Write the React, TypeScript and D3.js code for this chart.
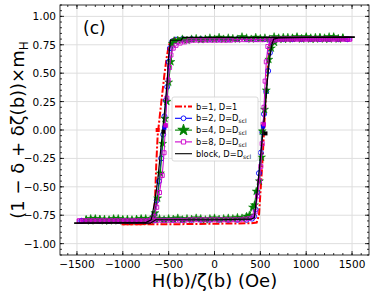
import React, { useEffect, useRef } from 'react';
import * as d3 from 'd3';

type Pt = [number, number];

// b=1, D=1  (dash-dot line, no markers)
const b1Down: Pt[] = [
  [1000, 0.81], [500, 0.81], [0, 0.81], [-300, 0.81], [-440, 0.805], [-473, 0.79], [-500, 0.74],
  [-521, 0.64], [-546, 0.49], [-575, 0.28], [-600, 0.1], [-620, -0.05], [-635, -0.3], [-648, -0.6],
  [-660, -0.77], [-690, -0.82], [-800, -0.83], [-1015, -0.83],
];
const b1Up: Pt[] = [
  [-1015, -0.83], [-500, -0.83], [0, -0.825], [400, -0.82], [460, -0.815], [485, -0.75], [505, -0.5],
  [525, -0.25], [540, 0], [560, 0.3], [585, 0.6], [605, 0.76], [635, 0.805], [700, 0.81], [1000, 0.81],
];

// b=2, D=Dscl  (open circles)
const b2Down: Pt[] = [
  [1450, 0.8], [1350, 0.8], [1250, 0.8], [1150, 0.8], [1050, 0.8], [950, 0.8], [850, 0.8], [750, 0.8],
  [650, 0.8], [550, 0.8], [450, 0.8], [350, 0.8], [250, 0.8], [150, 0.8], [50, 0.8], [-50, 0.8],
  [-150, 0.8], [-250, 0.8], [-350, 0.8], [-420, 0.795], [-460, 0.78], [-485, 0.72], [-500, 0.6],
  [-516, 0.38], [-531, 0.26], [-546, 0.12], [-560, -0.04], [-582, -0.25], [-605, -0.45], [-630, -0.62],
  [-655, -0.74], [-680, -0.79], [-750, -0.8], [-850, -0.8], [-950, -0.8], [-1050, -0.8], [-1150, -0.8],
  [-1250, -0.8], [-1350, -0.8], [-1450, -0.8],
];
const b2Up: Pt[] = [
  [-1450, -0.8], [-1350, -0.8], [-1250, -0.8], [-1150, -0.8], [-1050, -0.8], [-950, -0.8], [-850, -0.8],
  [-750, -0.8], [-650, -0.795], [-550, -0.79], [-450, -0.79], [-350, -0.79], [-250, -0.79], [-150, -0.79],
  [-50, -0.79], [50, -0.79], [150, -0.79], [250, -0.79], [350, -0.79], [410, -0.78], [432, -0.76],
  [448, -0.7], [465, -0.55], [485, -0.38], [505, -0.2], [522, -0.02], [540, 0.14], [564, 0.34],
  [585, 0.52], [605, 0.68], [625, 0.77], [660, 0.795], [750, 0.8], [850, 0.8], [950, 0.8], [1050, 0.8],
  [1150, 0.8], [1250, 0.8], [1350, 0.8], [1450, 0.8],
];

// b=4, D=Dscl  (filled stars)
const b4Down: Pt[] = [
  [1400, 0.81], [1350, 0.8], [1300, 0.82], [1250, 0.8], [1200, 0.81], [1150, 0.815], [1100, 0.8],
  [1050, 0.81], [1000, 0.82], [950, 0.8], [900, 0.81], [850, 0.805], [800, 0.815], [750, 0.8], [700, 0.81],
  [650, 0.82], [600, 0.8], [550, 0.81], [500, 0.805], [450, 0.815], [400, 0.8], [350, 0.81], [300, 0.82],
  [250, 0.8], [200, 0.805], [150, 0.81], [100, 0.8], [50, 0.815], [0, 0.8], [-50, 0.81], [-100, 0.8],
  [-150, 0.795], [-200, 0.805], [-250, 0.8], [-300, 0.79], [-350, 0.8], [-400, 0.79], [-440, 0.785],
  [-460, 0.76], [-475, 0.6], [-500, 0.42], [-520, 0.25], [-540, 0.1], [-565, -0.12], [-590, -0.38],
  [-620, -0.6], [-650, -0.73], [-680, -0.78], [-700, -0.79], [-750, -0.8], [-800, -0.78], [-850, -0.79],
  [-900, -0.8], [-950, -0.785], [-1000, -0.79], [-1050, -0.8], [-1100, -0.78], [-1150, -0.79],
  [-1200, -0.8], [-1250, -0.785], [-1300, -0.79], [-1350, -0.78], [-1400, -0.79],
];
const b4Up: Pt[] = [
  [-1400, -0.79], [-1350, -0.8], [-1300, -0.78], [-1250, -0.79], [-1200, -0.785], [-1150, -0.8],
  [-1100, -0.79], [-1050, -0.78], [-1000, -0.79], [-950, -0.8], [-900, -0.79], [-850, -0.785],
  [-800, -0.79], [-750, -0.78], [-700, -0.79], [-650, -0.785], [-600, -0.78], [-550, -0.79], [-500, -0.78],
  [-450, -0.785], [-400, -0.775], [-350, -0.79], [-300, -0.78], [-250, -0.785], [-200, -0.775],
  [-150, -0.78], [-100, -0.79], [-50, -0.78], [0, -0.775], [50, -0.785], [100, -0.78], [150, -0.775],
  [200, -0.78], [250, -0.77], [300, -0.775], [350, -0.76], [380, -0.75], [415, -0.68], [436, -0.66],
  [455, -0.54], [490, -0.45], [513, -0.24], [520, -0.01], [546, 0.18], [565, 0.35], [593, 0.62],
  [620, 0.72], [655, 0.77], [700, 0.8], [750, 0.815], [800, 0.8], [850, 0.81], [900, 0.82], [950, 0.805],
  [1000, 0.81], [1050, 0.8], [1100, 0.815], [1150, 0.81], [1200, 0.8], [1250, 0.82], [1300, 0.81],
  [1350, 0.805], [1400, 0.81],
];

// b=8, D=Dscl  (open squares)
const b8Down: Pt[] = [
  [1475, 0.8], [1425, 0.8], [1375, 0.8], [1325, 0.8], [1275, 0.8], [1225, 0.8], [1175, 0.8], [1125, 0.8],
  [1075, 0.8], [1025, 0.8], [975, 0.8], [925, 0.8], [875, 0.8], [825, 0.8], [775, 0.8], [725, 0.8],
  [675, 0.8], [625, 0.8], [575, 0.8], [525, 0.795], [475, 0.795], [425, 0.795], [375, 0.795], [325, 0.795],
  [275, 0.795], [225, 0.795], [175, 0.79], [125, 0.79], [75, 0.79], [25, 0.79], [-25, 0.79], [-75, 0.79],
  [-125, 0.79], [-175, 0.79], [-225, 0.79], [-275, 0.785], [-325, 0.775], [-375, 0.765], [-420, 0.745],
  [-450, 0.72], [-475, 0.66], [-490, 0.55], [-505, 0.44], [-520, 0.28], [-535, 0.04], [-550, -0.2],
  [-570, -0.4], [-600, -0.55], [-630, -0.68], [-660, -0.76], [-690, -0.79], [-725, -0.8], [-775, -0.8],
  [-825, -0.8], [-875, -0.8], [-925, -0.8], [-975, -0.8], [-1025, -0.8], [-1075, -0.8], [-1125, -0.8],
  [-1175, -0.8], [-1225, -0.8], [-1275, -0.8], [-1325, -0.8], [-1375, -0.8], [-1425, -0.8], [-1475, -0.8],
];
const b8Up: Pt[] = [
  [-1475, -0.8], [-1425, -0.8], [-1375, -0.8], [-1325, -0.8], [-1275, -0.8], [-1225, -0.8], [-1175, -0.8],
  [-1125, -0.8], [-1075, -0.8], [-1025, -0.8], [-975, -0.8], [-925, -0.8], [-875, -0.8], [-825, -0.8],
  [-775, -0.8], [-725, -0.8], [-675, -0.795], [-625, -0.795], [-575, -0.795], [-525, -0.795], [-475, -0.795],
  [-425, -0.795], [-375, -0.795], [-325, -0.795], [-275, -0.79], [-225, -0.79], [-175, -0.79], [-125, -0.79],
  [-75, -0.79], [-25, -0.79], [25, -0.79], [75, -0.79], [125, -0.79], [175, -0.79], [225, -0.79],
  [275, -0.79], [325, -0.785], [375, -0.78], [420, -0.765], [445, -0.72], [470, -0.58], [490, -0.45],
  [505, -0.32], [520, -0.12], [530, 0.05], [540, 0.2], [552, 0.43], [565, 0.6], [582, 0.735], [615, 0.775],
  [650, 0.79], [700, 0.795], [750, 0.8], [800, 0.8], [850, 0.8], [900, 0.8], [950, 0.8], [1000, 0.8],
  [1050, 0.8], [1100, 0.8], [1150, 0.8], [1200, 0.8], [1250, 0.8], [1300, 0.8], [1350, 0.8], [1400, 0.8],
  [1450, 0.8], [1475, 0.8],
];

// block, D=Dscl  (solid black line)
const blockDown: Pt[] = [
  [1530, 0.815], [1000, 0.815], [500, 0.815], [0, 0.815], [-345, 0.815], [-365, 0.79], [-480, 0.79],
  [-500, 0.65], [-515, 0.44], [-540, 0.2], [-565, 0], [-590, -0.2], [-620, -0.45], [-650, -0.62],
  [-675, -0.73], [-690, -0.79], [-750, -0.815], [-1000, -0.815], [-1530, -0.82],
];
const blockUp: Pt[] = [
  [-1530, -0.82], [-1000, -0.82], [-700, -0.82], [-640, -0.79], [0, -0.79], [400, -0.785], [435, -0.77],
  [445, -0.7], [470, -0.5], [500, -0.25], [530, 0], [555, 0.2], [575, 0.42], [600, 0.62], [625, 0.75],
  [645, 0.8], [700, 0.81], [1000, 0.815], [1530, 0.82],
];

// points where each loop crosses zero (filled squares)
const zeroCrossH = [-620, -546, -535, -557, 535, 530, 540, 556];
const zeroCrossM = [0, 0.02, 0.04, -0.015, 0.04, 0.03, 0.05, -0.03];
const zeroCrossColor = ['#ff0000', '#0000ff', '#cc00cc', '#000000', '#ff0000', '#0000ff', '#cc00cc', '#000000'];

const xTicks = [-1500, -1000, -500, 0, 500, 1000, 1500];
const yTicks = [-1, -0.75, -0.5, -0.25, 0, 0.25, 0.5, 0.75, 1];
const legendNames = ['b=1, D=1', 'b=2, D=D', 'b=4, D=D', 'b=8, D=D', 'block, D=D'];
const legendSub = ['', 'scl', 'scl', 'scl', 'scl'];

const W = 374, H = 293;
const margin = { top: 5, right: 5, bottom: 38, left: 60 };
const FONT = "'DejaVu Sans', sans-serif";
const minus = (s: string) => s.replace('-', '\u2212');

const App = () => {
  const ref = useRef<SVGSVGElement>(null);

  const graph = () => {
    const svg = d3.select(ref.current);
    svg.selectAll('*').remove();

    const x = d3.scaleLinear().domain([-1685, 1685]).range([margin.left, W - margin.right]);
    const y = d3.scaleLinear().domain([-1.1, 1.1]).range([H - margin.bottom, margin.top]);
    const [x0, x1] = x.range();
    const [y1, y0] = y.range();

    svg.append('rect').attr('width', W).attr('height', H).attr('fill', '#fff');

    // grid
    const grid = svg.append('g').attr('stroke', '#dedede').attr('stroke-width', 1);
    grid.selectAll('line.gx').data(xTicks).enter().append('line')
      .attr('x1', d => x(d)).attr('x2', d => x(d)).attr('y1', y0).attr('y2', y1);
    grid.selectAll('line.gy').data(yTicks).enter().append('line')
      .attr('y1', d => y(d)).attr('y2', d => y(d)).attr('x1', x0).attr('x2', x1);

    svg.append('clipPath').attr('id', 'plotclip').append('rect')
      .attr('x', x0).attr('y', y0).attr('width', x1 - x0).attr('height', y1 - y0);
    const plot = svg.append('g').attr('clip-path', 'url(#plotclip)');

    const line = d3.line<Pt>().x(d => x(d[0])).y(d => y(d[1]));

    // b=1
    [b1Down, b1Up].forEach(b => {
      plot.append('path').attr('d', line(b)).attr('fill', 'none').attr('stroke', '#ff0000')
        .attr('stroke-width', 2).attr('stroke-dasharray', '7,2,2,2');
    });

    const marked = (data: Pt[][], color: string, kind: string) => {
      data.forEach(b => {
        plot.append('path').attr('d', line(b)).attr('fill', 'none').attr('stroke', color).attr('stroke-width', 1);
      });
      const pts = data.flat();
      const sym = kind === 'star' ? d3.symbolStar : kind === 'square' ? d3.symbolSquare : d3.symbolCircle;
      const size = kind === 'star' ? 20 : kind === 'square' ? 16 : 20;
      plot.append('g').selectAll('path').data(pts).enter().append('path')
        .attr('transform', d => `translate(${x(d[0])},${y(d[1])})`)
        .attr('d', d3.symbol().type(sym).size(size)())
        .attr('fill', kind === 'star' ? color : 'none')
        .attr('stroke', color).attr('stroke-width', kind === 'star' ? 0.5 : 0.9);
    };
    marked([b2Down, b2Up], '#0000ff', 'circle');
    marked([b4Down, b4Up], '#008000', 'star');
    marked([b8Down, b8Up], '#cc00cc', 'square');

    [blockDown, blockUp].forEach(b => {
      plot.append('path').attr('d', line(b)).attr('fill', 'none').attr('stroke', '#000')
        .attr('stroke-width', 1.2);
    });

    plot.append('g').selectAll('rect').data(zeroCrossH).enter().append('rect')
      .attr('x', (d, i) => x(d) - 2).attr('y', (d, i) => y(zeroCrossM[i]) - 2)
      .attr('width', 4).attr('height', 4).attr('fill', (d, i) => zeroCrossColor[i]);

    // frame
    svg.append('rect').attr('x', x0).attr('y', y0).attr('width', x1 - x0).attr('height', y1 - y0)
      .attr('fill', 'none').attr('stroke', '#000').attr('stroke-width', 0.8);

    // ticks, inward on all sides
    const ticks = svg.append('g').attr('stroke', '#000').attr('stroke-width', 0.8);
    const xMinor = d3.range(-1600, 1601, 100);
    const yMinor = d3.range(-22, 23).map(k => k * 0.05);
    const addX = (vals: number[], len: number) => {
      vals.forEach(v => {
        ticks.append('line').attr('x1', x(v)).attr('x2', x(v)).attr('y1', y1).attr('y2', y1 - len);
        ticks.append('line').attr('x1', x(v)).attr('x2', x(v)).attr('y1', y0).attr('y2', y0 + len);
      });
    };
    const addY = (vals: number[], len: number) => {
      vals.forEach(v => {
        ticks.append('line').attr('y1', y(v)).attr('y2', y(v)).attr('x1', x0).attr('x2', x0 + len);
        ticks.append('line').attr('y1', y(v)).attr('y2', y(v)).attr('x1', x1).attr('x2', x1 - len);
      });
    };
    addX(xMinor, 2);
    addY(yMinor, 2);
    addX(xTicks, 4);
    addY(yTicks, 4);

    // tick labels
    svg.append('g').selectAll('text').data(xTicks).enter().append('text')
      .attr('x', d => x(d)).attr('y', y1 + 13).attr('text-anchor', 'middle')
      .style('font-family', FONT).style('font-size', '10.5px').text(d => minus(String(d)));
    svg.append('g').selectAll('text').data(yTicks).enter().append('text')
      .attr('x', x0 - 4).attr('y', d => y(d) + 4).attr('text-anchor', 'end')
      .style('font-family', FONT).style('font-size', '10.5px').text(d => minus(d.toFixed(2)));

    // axis labels
    svg.append('text').attr('x', (x0 + x1) / 2).attr('y', 287).attr('text-anchor', 'middle')
      .style('font-family', FONT).style('font-size', '18px').text('H(b)/\u03b6(b) (Oe)');
    const yl = svg.append('text').attr('transform', `translate(24,${(y0 + y1) / 2}) rotate(-90)`)
      .attr('text-anchor', 'middle').style('font-family', FONT).style('font-size', '18px');
    yl.append('tspan').text('(1 \u2212 \u03b4 + \u03b4\u03b6(b))\u00d7m');
    yl.append('tspan').attr('dy', 4).style('font-size', '12px').text('H');

    svg.append('text').attr('x', 83).attr('y', 34).style('font-family', FONT).style('font-size', '17px').text('(c)');

    // legend
    const lg = svg.append('g').attr('transform', 'translate(172,97)');
    lg.append('rect').attr('width', 86).attr('height', 64).attr('rx', 2)
      .attr('fill', '#fff').attr('fill-opacity', 0.85).attr('stroke', '#d0d0d0').attr('stroke-width', 0.8);
    const colors = ['#ff0000', '#0000ff', '#008000', '#cc00cc', '#000000'];
    const kinds = ['', 'circle', 'star', 'square', ''];
    legendNames.forEach((name, i) => {
      const ry = 9.5 + i * 11.8;
      const ln = lg.append('line').attr('x1', 3).attr('x2', 20).attr('y1', ry).attr('y2', ry)
        .attr('stroke', colors[i]).attr('stroke-width', i === 0 ? 2 : 1.1);
      if (i === 0) ln.attr('stroke-dasharray', '7,2,2,2');
      if (kinds[i]) {
        const sym = kinds[i] === 'star' ? d3.symbolStar : kinds[i] === 'square' ? d3.symbolSquare : d3.symbolCircle;
        lg.append('path').attr('transform', `translate(11.5,${ry})`)
          .attr('d', d3.symbol().type(sym).size(kinds[i] === 'star' ? 40 : 18)())
          .attr('fill', kinds[i] === 'star' ? colors[i] : '#fff').attr('stroke', colors[i]).attr('stroke-width', 0.9);
      }
      const t = lg.append('text').attr('x', 24).attr('y', ry + 3).style('font-family', FONT).style('font-size', '8.3px');
      t.append('tspan').text(name);
      if (legendSub[i]) t.append('tspan').attr('dy', 1.8).style('font-size', '6px').text(legendSub[i]);
    });
  };

  useEffect(() => graph());

  return (
    <svg ref={ref} width={W} height={H} style={{ position: 'absolute', left: 0, top: 0 }}></svg>
  );
};

export default App;
